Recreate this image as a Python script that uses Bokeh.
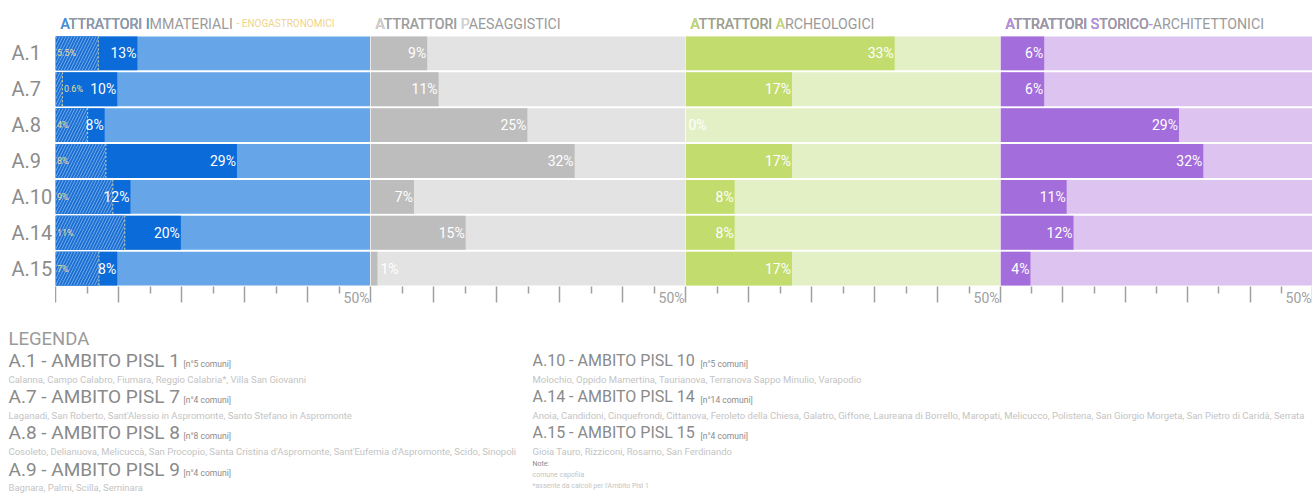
from bokeh.plotting import figure
from bokeh.models import Range1d, FactorRange, FixedTicker, LinearAxis, ColumnDataSource
from bokeh.layouts import row, column
from bokeh.embed import file_html
from bokeh.resources import INLINE
from bokeh.core.properties import value

# ---------------- data ----------------
rows = ["A.1", "A.7", "A.8", "A.9", "A.10", "A.14", "A.15"]

immateriali = [13, 9.8, 7.8, 28.8, 11.9, 19.9, 9.8]
immateriali_labels = ["13%", "10%", "8%", "29%", "12%", "20%", "8%"]
enogastronomici = [6.8, 1.1, 5.1, 8, 9.1, 11, 6.9]
enogastronomici_labels = ["5.5%", "0.6%", "4%", "8%", "9%", "11%", "7%"]
paesaggistici = [9, 10.8, 24.9, 32.4, 6.9, 15.1, 1.1]
paesaggistici_labels = ["9%", "11%", "25%", "32%", "7%", "15%", "1%"]
archeologici = [33.2, 16.9, 0, 16.9, 7.8, 7.8, 16.9]
archeologici_labels = ["33%", "17%", "0%", "17%", "8%", "8%", "17%"]
storico = [7, 7, 28.6, 32.5, 10.6, 11.7, 4.8]
storico_labels = ["6%", "6%", "29%", "32%", "11%", "12%", "4%"]

axis_max = 50
axis_max_label = "50%"
major_ticks = [0, 10, 20, 30, 40, 50]
minor_ticks = [5, 15, 25, 35, 45]

titles = ["ATTRATTORI IMMATERIALI", "ATTRATTORI PAESAGGISTICI",
          "ATTRATTORI ARCHEOLOGICI", "ATTRATTORI STORICO-ARCHITETTONICI"]
title_highlights = [[0, 11], [0, 11], [0, 11], [0, 11, 18]]
subtitle = "- ENOGASTRONOMICI"

ambiti = ["A.1 - AMBITO PISL 1", "A.7 - AMBITO PISL 7", "A.8 - AMBITO PISL 8",
          "A.9 - AMBITO PISL 9", "A.10 - AMBITO PISL 10", "A.14 - AMBITO PISL 14",
          "A.15 - AMBITO PISL 15"]
n_comuni = ["[n°5 comuni]", "[n°4 comuni]", "[n°8 comuni]", "[n°4 comuni]",
            "[n°5 comuni]", "[n°14 comuni]", "[n°4 comuni]"]
comuni = [
    "Calanna, Campo Calabro, Fiumara, Reggio Calabria*, Villa San Giovanni",
    "Laganadi, San Roberto, Sant'Alessio in Aspromonte, Santo Stefano in Aspromonte",
    "Cosoleto, Delianuova, Melicuccà, San Procopio, Santa Cristina d'Aspromonte, Sant'Eufemia d'Aspromonte, Scido, Sinopoli",
    "Bagnara, Palmi, Scilla, Seminara",
    "Molochio, Oppido Mamertina, Taurianova, Terranova Sappo Minulio, Varapodio",
    "Anoia, Candidoni, Cinquefrondi, Cittanova, Feroleto della Chiesa, Galatro, Giffone, Laureana di Borrello, Maropati, Melicucco, Polistena, San Giorgio Morgeta, San Pietro di Caridà, Serrata",
    "Gioia Tauro, Rizziconi, Rosarno, San Ferdinando",
]
note_lines = ["Note:", "comune capofila", "*assente da calcoli per l'Ambito Pisl 1"]

# ---------------- style ----------------
FONT = "Roboto"
LAB_W = 55
FW = [315, 315, 315, 312]
FH = 251
TITLE_H = 35
BOT = 22
GREY = "#8c8c8c"
TITLE_GREY = "#9a9a9a"
TICK = "#a0a0a0"

panel_styles = [
    dict(light="#66a6e8", dark="#0a6bd9", hi="#3d8fe6"),
    dict(light="#e3e3e3", dark="#bdbdbd", hi="#d6d6d6"),
    dict(light="#e3f0c5", dark="#c2dc6e", hi="#c6de6e"),
    dict(light="#dcc3f0", dark="#a46ddc", hi="#b890ea"),
]

yr = FactorRange(factors=list(reversed(rows)))


def clean(p):
    p.grid.visible = False
    p.outline_line_color = None
    p.background_fill_color = "white"
    p.border_fill_color = "white"
    return p


def base_fig(w, h, xr):
    p = figure(width=w, height=h, x_range=xr, y_range=yr, output_backend="svg",
               toolbar_location=None, min_border_left=0, min_border_right=0,
               min_border_top=0, min_border_bottom=BOT, y_axis_location=None)
    return clean(p)


def strip(w, h, xr):
    p = figure(width=w, height=h, x_range=xr, y_range=Range1d(0, h), output_backend="svg",
               toolbar_location=None, x_axis_location=None, y_axis_location=None,
               min_border=0)
    return clean(p)


def title_strip(k):
    p = strip(FW[k], TITLE_H, Range1d(0, axis_max))
    text = titles[k]
    hi = panel_styles[k]["hi"]
    y = TITLE_H - 23

    def lab(t, c, size="14.2px", xo=5):
        p.text(x=[0], y=[y], text=[t], x_offset=xo, text_color=c, text_font=value(FONT),
               text_font_size=size, text_baseline="middle", text_align="left")
    lab(text, TITLE_GREY)
    for i in sorted(title_highlights[k], reverse=True):
        lab(text[:i + 1], hi)
        if i > 0:
            lab(text[:i], TITLE_GREY)
    if k == 0:
        lab(subtitle, "#f0d488", size="10px", xo=181)
    return p


def make_panel(k, vals, labels, hatch=None, hatch_labels=None):
    st = panel_styles[k]
    p = base_fig(FW[k], FH + BOT, Range1d(0, axis_max))
    h = 0.945
    p.hbar(y=rows, left=0, right=[axis_max] * len(rows), height=h,
           fill_color=st["light"], line_color=None)
    p.hbar(y=rows, left=0, right=vals, height=h, fill_color=st["dark"], line_color=None)
    if hatch is not None:
        p.hbar(y=rows, left=0, right=hatch, height=h, fill_color="#1e6fd2",
               line_color=None, hatch_pattern="/", hatch_color="#6aa8ec",
               hatch_scale=6, hatch_weight=1)
        p.segment(x0=hatch, x1=hatch, y0=[(r, -h / 2) for r in rows],
                  y1=[(r, h / 2) for r in rows], line_color="#d8d2a0",
                  line_width=1, line_dash="2 2")
        hx = [0 if v >= 2 else v for v in hatch]
        p.text(x=hx, y=rows, text=hatch_labels, x_offset=1.5, text_align="left",
               text_baseline="middle", text_font=value(FONT), text_font_size="9px",
               text_color="#e8dc9c")
    right_idx = [i for i, v in enumerate(vals) if v >= 3]
    left_idx = [i for i, v in enumerate(vals) if v < 3]
    if right_idx:
        src = ColumnDataSource(dict(x=[vals[i] for i in right_idx],
                                    y=[rows[i] for i in right_idx],
                                    t=[labels[i] for i in right_idx]))
        p.text(x="x", y="y", text="t", source=src, x_offset=-1, text_align="right",
               text_baseline="middle", text_font=value(FONT), text_font_size="14px",
               text_color="white")
    if left_idx:
        src = ColumnDataSource(dict(x=[vals[i] for i in left_idx],
                                    y=[rows[i] for i in left_idx],
                                    t=[labels[i] for i in left_idx]))
        p.text(x="x", y="y", text="t", source=src, x_offset=3, text_align="left",
               text_baseline="middle", text_font=value(FONT), text_font_size="14px",
               text_color="white")
    ax = p.xaxis[0]
    ax.ticker = FixedTicker(ticks=major_ticks, minor_ticks=minor_ticks)
    ax.major_tick_out = 16
    ax.major_tick_in = 0
    ax.minor_tick_out = 7
    ax.minor_tick_in = 0
    ax.major_tick_line_color = TICK
    ax.minor_tick_line_color = TICK
    ax.major_tick_line_width = 1.5
    ax.minor_tick_line_width = 1.5
    ax.axis_line_color = None
    ax.major_label_overrides = {t: "" for t in major_ticks}
    ax.major_label_text_font_size = "1px"
    ax.major_label_standoff = 0
    # second axis carrying only the right-aligned "50%" label
    lp = round(axis_max - 14 / (FW[k] / axis_max), 2)
    ax2 = LinearAxis(ticker=FixedTicker(ticks=[lp], minor_ticks=[]),
                     major_tick_out=0, major_tick_in=0, minor_tick_out=0, minor_tick_in=0,
                     axis_line_color=None, major_tick_line_color=None,
                     major_label_overrides={lp: axis_max_label},
                     major_label_standoff=-13, major_label_text_font=FONT,
                     major_label_text_font_size="14px", major_label_text_color=TICK)
    p.add_layout(ax2, "below")
    return p


p1 = make_panel(0, immateriali, immateriali_labels, enogastronomici, enogastronomici_labels)
p2 = make_panel(1, paesaggistici, paesaggistici_labels)
p3 = make_panel(2, archeologici, archeologici_labels)
p4 = make_panel(3, storico, storico_labels)

# row labels
pl = base_fig(LAB_W, FH + BOT, Range1d(0, LAB_W))
pl.xaxis.visible = False
pl.text(x=[11] * len(rows), y=rows, text=rows, text_align="left", text_baseline="middle",
        text_font=value(FONT), text_font_size="20px", text_color="#8c8c8c")

titles_row = row(strip(LAB_W, TITLE_H, Range1d(0, LAB_W)),
                 *[title_strip(k) for k in range(4)])

# legend block
LW, LH = sum(FW) + LAB_W, 186
pg = figure(width=LW, height=LH, x_range=Range1d(0, LW), y_range=Range1d(LH, 0),
            output_backend="svg", toolbar_location=None, x_axis_location=None,
            y_axis_location=None, min_border=0)
clean(pg)

col_x = [8, 8, 8, 8, 532, 532, 532]
big_y = [52, 88, 124, 161, 52, 88, 124]
small_y = [71, 107, 143, 179, 71, 107, 143]
n_x = [183, 183, 183, 183, 700, 700, 700]

pg.text(x=[8], y=[30], text=["LEGENDA"], text_font=value(FONT), text_font_size="18.5px",
        text_color="#9a9a9a", text_baseline="middle")
pg.text(x=col_x[:4], y=big_y[:4], text=ambiti[:4], text_font=value(FONT),
        text_font_size="19px", text_color="#8a8a8a", text_baseline="middle")
pg.text(x=col_x[4:], y=big_y[4:], text=ambiti[4:], text_font=value(FONT),
        text_font_size="16px", text_color="#8a8a8a", text_baseline="middle")
pg.text(x=n_x, y=[v + 3 for v in big_y], text=n_comuni, text_font=value(FONT),
        text_font_size="8.5px", text_color="#8a8a8a", text_baseline="middle")
pg.text(x=col_x, y=small_y, text=comuni, text_font=value(FONT),
        text_font_size="9.5px", text_color="#c4c4c4", text_baseline="middle")
pg.text(x=[532, 532, 532], y=[155, 166, 177], text=note_lines, text_font=value(FONT),
        text_font_size="7px", text_color=["#8a8a8a", "#c4c4c4", "#c4c4c4"],
        text_baseline="middle")

layout = column(titles_row, row(pl, p1, p2, p3, p4), pg)
open("out.html", "w").write(file_html(layout, INLINE))
